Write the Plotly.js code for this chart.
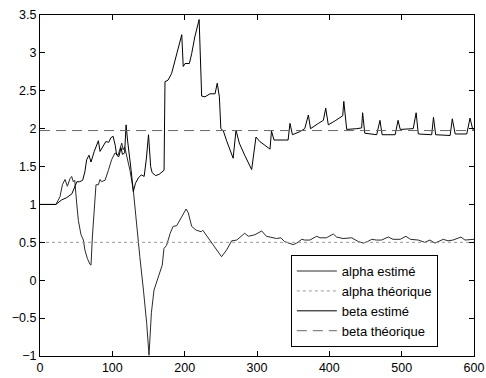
<!DOCTYPE html>
<html>
<head>
<meta charset="utf-8">
<script src="https://cdn.plot.ly/plotly-3.0.1.min.js"></script>
<style>html,body{margin:0;padding:0;background:#fff;}#chart{width:486px;height:378px;}</style>
</head>
<body>
<div id="chart"></div>
<script>
// alpha estimé
var alphaX = [0,22,27.6,31,34.6,37.8,41.5,43.8,46,48,
  50.7,53,56.7,60,62,65.4,69,70.5,72.4,75,
  77.4,80.7,83,85,90,94.5,99,103.7,108,113,
  115,117,120,124.4,129,134,138,143,147.5,150.7,
  154,157.6,163.5,169,171.4,175,180,184,189,196,
  202,205,209.7,216,223,225,233,242,251,258,
  265,272,283,288,297,306.5,313,327,333,338,
  350,355,362,366,373,382.5,387,396,405.5,410,
  419,431,440,447,453,458.6,465,472,481.5,488,
  498,506,512,523,532,539,546,557.6,564,571,
  582,587.5,595,600];
var alphaY = [1,1,1.10,1.26,1.33,1.24,1.34,1.37,1.30,1.32,
  1.02,0.79,0.60,0.53,0.40,0.29,0.21,0.20,0.57,1.01,
  1.26,1.26,1.33,1.30,1.32,1.45,1.59,1.68,1.65,1.81,
  1.72,1.76,1.63,1.45,1.19,0.66,0.31,-0.13,-0.57,-0.99,
  -0.43,-0.13,0.05,0.20,0.42,0.46,0.62,0.71,0.72,0.84,
  0.94,0.89,0.71,0.66,0.64,0.66,0.55,0.42,0.31,0.40,
  0.52,0.53,0.62,0.58,0.60,0.65,0.58,0.55,0.56,0.51,
  0.47,0.49,0.54,0.53,0.53,0.58,0.56,0.56,0.61,0.57,
  0.55,0.56,0.51,0.49,0.51,0.54,0.53,0.53,0.57,0.54,
  0.54,0.58,0.54,0.53,0.50,0.53,0.49,0.54,0.52,0.53,
  0.57,0.53,0.54,0.54];

// beta estimé
var betaX = [0,22,30,37,44,48,51,55,59,62,
  64.5,67.7,70.5,75,78,80.7,83,87.5,91,95,
  98,101,104,106,109,112,114,117,119,121,
  123,126,129,132,136,140,144,147,150,153,
  155,160,165,169,171.5,172.8,177,182,186.6,191,
  196,198,200.5,206.5,209.7,214,220,223.5,228,235,
  242,245,248,250,253.5,258,267,271,275.5,283,
  292.6,298.6,304,318,320,323.5,334,343,345.6,349,
  359,366,371,374,385,391.7,395,398.6,409,418.5,
  420,424,438,444.7,446,449,465.5,470,473,491,
  495,498,516,520,523,541.5,544,547,567,570,
  574,590,594.5,598,600];
var betaY = [1.00,1.00,1.06,1.09,1.14,1.22,1.30,1.30,1.32,1.43,
  1.59,1.65,1.56,1.70,1.78,1.84,1.70,1.78,1.83,1.82,
  1.88,1.90,1.78,1.65,1.63,1.75,1.66,1.68,2.05,1.85,
  1.65,1.45,1.17,1.28,1.35,1.39,1.37,1.60,1.92,1.50,
  1.42,1.38,1.40,1.43,1.45,2.62,2.64,2.73,2.90,3.06,
  3.24,2.82,2.86,2.86,2.99,3.21,3.44,2.43,2.42,2.46,
  2.46,2.60,2.42,2.00,1.97,1.84,1.61,1.98,1.81,1.65,
  1.46,1.89,1.83,1.73,1.97,1.85,1.85,1.85,2.07,1.92,
  1.96,2.00,2.18,2.00,2.07,2.11,2.27,2.05,2.11,2.17,
  2.36,1.99,2.00,2.01,2.21,1.94,1.92,2.11,1.92,1.92,
  2.11,1.99,2.00,2.21,1.93,1.92,2.15,1.92,1.91,2.13,
  1.93,1.93,2.14,2.00,1.97];

// theoretical values
var thX = [0, 600];
var alphaTh = [0.5, 0.5];
var betaTh = [1.975, 1.975];

var seriesNames = ['alpha estimé', 'alpha théorique', 'beta estimé', 'beta théorique'];
var xTicks = [0,100,200,300,400,500,600];
var yTicks = [-1,-0.5,0,0.5,1,1.5,2,2.5,3,3.5];

var traces = [
  {x: alphaX, y: alphaY, name: seriesNames[0], mode: 'lines', line: {color: '#2a2a2a', width: 1}},
  {x: thX, y: alphaTh, name: seriesNames[1], mode: 'lines', line: {color: '#999999', width: 1, dash: 'dot'}},
  {x: betaX, y: betaY, name: seriesNames[2], mode: 'lines', line: {color: '#000000', width: 1}},
  {x: thX, y: betaTh, name: seriesNames[3], mode: 'lines', line: {color: '#666666', width: 1, dash: '10px,6px'}}
];

var axisCommon = {
  showline: true, linecolor: '#000', linewidth: 1, mirror: 'allticks',
  ticks: 'inside', ticklen: 5, tickcolor: '#000', tickwidth: 1,
  showgrid: false, zeroline: false,
  tickfont: {family: 'Liberation Sans, Arial, sans-serif', size: 12.5, color: '#000'}
};

var layout = {
  width: 486, height: 378,
  margin: {l: 40, r: 12, t: 15, b: 22},
  paper_bgcolor: '#fff', plot_bgcolor: '#fff',
  showlegend: true,
  xaxis: Object.assign({}, axisCommon, {range: [0, 600], tickvals: xTicks, ticktext: xTicks.map(String)}),
  yaxis: Object.assign({}, axisCommon, {range: [-1, 3.5], tickvals: yTicks}),
  legend: {
    x: 0.578, y: 0.296, xanchor: 'left', yanchor: 'top',
    bgcolor: '#fff', bordercolor: '#000', borderwidth: 1,
    itemwidth: 40, tracegroupgap: 0,
    font: {family: 'Liberation Sans, Arial, sans-serif', size: 13, color: '#000'}
  }
};

Plotly.newPlot('chart', traces, layout, {displayModeBar: false, staticPlot: true});
</script>
</body>
</html>
